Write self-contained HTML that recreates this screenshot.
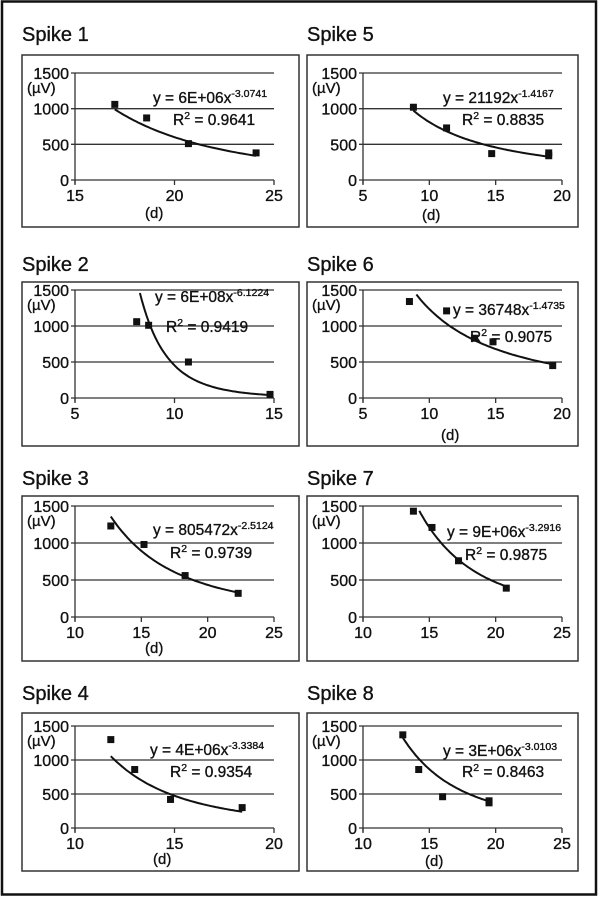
<!DOCTYPE html>
<html><head><meta charset="utf-8"><style>
body{margin:0;background:#fff;}
svg{display:block;}
text{font-family:"Liberation Sans","DejaVu Sans",sans-serif;fill:#111;stroke:#111;stroke-width:0.35;}
</style></head><body>
<svg id="s" width="600" height="897" xmlns="http://www.w3.org/2000/svg">
<rect x="2" y="1.5" width="594" height="893" fill="none" stroke="#111" stroke-width="2.5"/>
</svg>
<script>
const S=document.getElementById('s');let h='';
const rows=[{t:41,b0:55,b1:227,p0:73,p1:180},{t:271,b0:282,b1:446,p0:290,p1:398},{t:485,b0:496,b1:661,p0:506,p1:617},{t:700,b0:713,b1:871,p0:726,p1:828}];
const cols=[{bx0:22,bx1:299,px0:75,px1:274},{bx0:307,bx1:578,px0:363,px1:562}];
const P=[
{n:1,c:0,r:0,xr:[15,25],xt:[15,20,25],a:6e6,b:-3.0741,e:'6E+06x',ex:'-3.0741',r2:'0.9641',pts:[[17,1060],[18.6,870],[20.7,510],[24.1,380]],cx:[17,24.1],eq:[78,30],rq:[98,52],d:[70,38]},
{n:2,c:0,r:1,xr:[5,15],xt:[5,10,15],a:6e8,b:-6.1224,e:'6E+08x',ex:'-6.1224',r2:'0.9419',pts:[[8.1,1060],[8.7,1010],[10.7,500],[14.8,50]],cx:[8.15,14.8],eq:[80,12],rq:[91,42],d:null},
{n:3,c:0,r:2,xr:[10,25],xt:[10,15,20,25],a:805472,b:-2.5124,e:'805472',ex:'-2.5124',r2:'0.9739',pts:[[12.7,1230],[15.2,980],[18.3,560],[22.3,320]],cx:[12.7,22.3],eq:[78,29],rq:[95,52],d:[70,36]},
{n:4,c:0,r:3,xr:[10,20],xt:[10,15,20],a:4e6,b:-3.3384,e:'4E+06x',ex:'-3.3384',r2:'0.9354',pts:[[11.8,1300],[13,860],[14.8,420],[18.4,300]],cx:[11.8,18.4],eq:[75,29],rq:[95,51],d:[78,36]},
{n:5,c:1,r:0,xr:[5,20],xt:[5,10,15,20],a:21192,b:-1.4167,e:'21192x',ex:'-1.4167',r2:'0.8835',pts:[[8.8,1020],[11.3,730],[14.7,370],[19,340],[19,380]],cx:[8.8,19],eq:[80,30],rq:[99,52],d:[59,40]},
{n:6,c:1,r:1,xr:[5,20],xt:[5,10,15,20],a:36748,b:-1.4735,e:'36748x',ex:'-1.4735',r2:'0.9075',pts:[[8.5,1340],[11.3,1210],[13.4,830],[14.8,780],[19.3,450]],cx:[8.85,19.3],eq:[90,25],rq:[107,52],d:[78,42]},
{n:7,c:1,r:2,xr:[10,25],xt:[10,15,20,25],a:9e6,b:-3.2916,e:'9E+06x',ex:'-3.2916',r2:'0.9875',pts:[[13.8,1430],[15.2,1210],[17.2,760],[20.8,390]],cx:[13.9,20.8],eq:[84,31],rq:[102,54],d:null},
{n:8,c:1,r:3,xr:[10,25],xt:[10,15,20,25],a:3e6,b:-3.0103,e:'3E+06x',ex:'-3.0103',r2:'0.8463',pts:[[13,1370],[14.2,860],[16,460],[19.5,370],[19.5,400]],cx:[13,19.5],eq:[80,30],rq:[99,51],d:[62,38]}
];
for(const p of P){const R=rows[p.r],C=cols[p.c];
const X=x=>C.px0+(x-p.xr[0])/(p.xr[1]-p.xr[0])*(C.px1-C.px0);
const Y=y=>R.p1-y/1500*(R.p1-R.p0);
h+=`<text x="${C.bx0}" y="${R.t}" font-size="20">Spike ${p.n}</text>`;
h+=`<rect x="${C.bx0}" y="${R.b0}" width="${C.bx1-C.bx0}" height="${R.b1-R.b0}" fill="none" stroke="#333" stroke-width="1.5"/>`;
for(const v of [500,1000,1500])h+=`<line x1="${C.px0-4}" x2="${C.px1}" y1="${Y(v)}" y2="${Y(v)}" stroke="#333" stroke-width="1.3"/>`;
h+=`<line x1="${C.px0}" x2="${C.px0}" y1="${R.p0}" y2="${R.p1+4}" stroke="#333" stroke-width="1.3"/>`;
h+=`<line x1="${C.px0-4}" x2="${C.px1}" y1="${R.p1}" y2="${R.p1}" stroke="#333" stroke-width="1.3"/>`;
for(const t of p.xt){h+=`<line x1="${X(t)}" x2="${X(t)}" y1="${R.p1}" y2="${R.p1+5}" stroke="#333" stroke-width="1.3"/>`;
h+=`<text x="${X(t)}" y="${R.p1+21}" font-size="16" text-anchor="middle">${t}</text>`;}
for(const v of [0,500,1000,1500])h+=`<text x="${C.px0-6}" y="${Y(v)+6}" font-size="16" text-anchor="end">${v}</text>`;
h+=`<text x="${C.bx0+5}" y="${R.p0+20}" font-size="15">(µV)</text>`;
if(p.d)h+=`<text x="${C.px0+p.d[0]}" y="${R.p1+p.d[1]}" font-size="15">(d)</text>`;
let d='';const N=60;for(let i=0;i<=N;i++){const x=p.cx[0]+(p.cx[1]-p.cx[0])*i/N;let y=p.a*Math.pow(x,p.b);if(y>1460)continue;d+=(d?'L':'M')+X(x).toFixed(1)+','+Y(y).toFixed(1);}
h+=`<path d="${d}" fill="none" stroke="#111" stroke-width="2"/>`;
for(const q of p.pts)h+=`<rect x="${X(q[0])-3.5}" y="${Y(q[1])-3.5}" width="7" height="7" fill="#111"/>`;
const eqt=p.e==='805472'?'805472x':p.e;
h+=`<text x="${C.px0+p.eq[0]}" y="${R.p0+p.eq[1]}" font-size="15.5">y = ${eqt}<tspan dy="-6" font-size="10.5">${p.ex}</tspan></text>`;
h+=`<text x="${C.px0+p.rq[0]}" y="${R.p0+p.rq[1]}" font-size="15.5">R<tspan dy="-6" font-size="10.5">2</tspan><tspan dy="6"> = ${p.r2}</tspan></text>`;
}
S.insertAdjacentHTML('beforeend',h);
</script>
</body></html>
